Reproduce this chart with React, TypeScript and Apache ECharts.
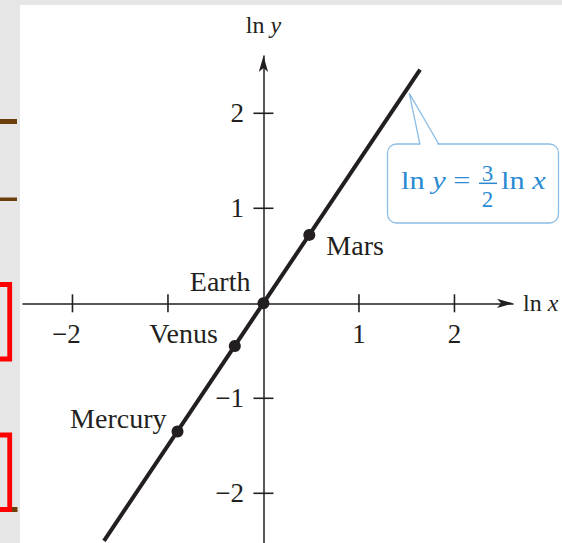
import { useEffect, useRef } from "react";
import * as echarts from "echarts";

// Tick positions and tick labels on the two log axes
const xTicks = [-2, -1, 1, 2];
const yTicks = [2, 1, -1, -2];
const xTickLabels = [-2, 1, 2];
const yTickLabels = [2, 1, -1, -2];

// Planets: ln of orbital radius (AU) and ln of period (years)
const planetNames = ["Mercury", "Venus", "Earth", "Mars"];
const planetLnX = [-0.9, -0.3, 0, 0.48];
const planetLnY = [-1.35, -0.45, 0, 0.72];

// End points of the fitted line ln y = 3/2 ln x
const fitLnX = [-1.67, 1.64];
const fitLnY = [-2.5, 2.46];

const ink = "#231f20";
const blue = "#2a8bd3";
const serif = "'Liberation Serif', 'Times New Roman', serif";

const labelPlacement: Record<string, any> = {
  Mercury: { position: "left", distance: 5, offset: [0, -13.5] },
  Venus: { position: "left", distance: 11, offset: [0, -13] },
  Earth: { position: "left", distance: 7, offset: [0, -22] },
  Mars: { position: "right", distance: 11, offset: [0, 11] },
};

const minus = (v: number) => (v < 0 ? "\u2212" + Math.abs(v) : String(v));

export default function App() {
  const ref = useRef<HTMLDivElement>(null);

  useEffect(() => {
    const chart = echarts.init(ref.current!, null, { renderer: "svg" });

    const richLn = (size: number, color: string, key: string) => ({
      n: { fontFamily: serif, fontSize: size, [key]: color },
      i: { fontFamily: serif, fontSize: size, [key]: color, fontStyle: "italic" },
    });

    const tickLabel = {
      show: true,
      fontFamily: serif,
      fontSize: 27,
      color: ink,
    };

    const calloutText = (x: number, y: number, text: string) => ({
      type: "text",
      x,
      y,
      scaleX: 1.17,
      style: {
        text,
        rich: richLn(26, blue, "fill"),
        fill: blue,
        verticalAlign: "middle",
        align: "left",
      },
    });

    const option: any = {
      animation: false,
      backgroundColor: "#ffffff",
      grid: { left: 23, top: 56, width: 490, height: 486.7, containLabel: false, outerBoundsMode: "none" },
      xAxis: {
        type: "value",
        min: -2.518,
        max: 2.613,
        axisLine: {
          onZero: true,
          lineStyle: { color: ink, width: 1.5 },
          symbol: ["none", "arrow"],
          symbolSize: [7, 16],
        },
        axisTick: { show: false },
        splitLine: { show: false },
        axisLabel: { show: false },
        name: "{n|ln }{i|x}",
        nameLocation: "end",
        nameGap: 10,
        nameTextStyle: { fontFamily: serif, fontSize: 24, color: ink, rich: richLn(24, ink, "color") },
      },
      yAxis: {
        type: "value",
        min: -2.52,
        max: 2.603,
        axisLine: {
          onZero: true,
          lineStyle: { color: ink, width: 1.5 },
          symbol: ["none", "arrow"],
          symbolSize: [7, 16],
        },
        axisTick: { show: false },
        splitLine: { show: false },
        axisLabel: { show: false },
        name: "{n|ln }{i|y}",
        nameLocation: "end",
        nameGap: 19,
        nameTextStyle: { fontFamily: serif, fontSize: 24, color: ink, rich: richLn(24, ink, "color") },
      },
      series: [
        // cross-shaped ticks on the x axis
        {
          type: "scatter",
          silent: true,
          symbol: "rect",
          symbolSize: [1.6, 18],
          itemStyle: { color: ink, opacity: 1 },
          data: xTicks.map((v) => [v, 0]),
          z: 1,
        },
        // cross-shaped ticks on the y axis
        {
          type: "scatter",
          silent: true,
          symbol: "rect",
          symbolSize: [20, 1.6],
          itemStyle: { color: ink, opacity: 1 },
          data: yTicks.map((v) => [0, v]),
          z: 1,
        },
        // tick labels below the x axis
        {
          type: "scatter",
          silent: true,
          symbol: "rect",
          symbolSize: 1,
          itemStyle: { color: "rgba(0,0,0,0)", opacity: 1 },
          label: {
            ...tickLabel,
            position: "bottom",
            distance: 17,
            formatter: (p: any) => minus(p.value[0]),
          },
          data: xTickLabels.map((v) => ({
            value: [v, 0],
            label: v < 0 ? { offset: [-6, 0] } : {},
          })),
          z: 1,
        },
        // tick labels left of the y axis
        {
          type: "scatter",
          silent: true,
          symbol: "rect",
          symbolSize: 1,
          itemStyle: { color: "rgba(0,0,0,0)", opacity: 1 },
          label: {
            ...tickLabel,
            position: "left",
            distance: 19,
            formatter: (p: any) => minus(p.value[1]),
          },
          data: yTickLabels.map((v) => [0, v]),
          z: 1,
        },
        {
          type: "line",
          silent: true,
          showSymbol: false,
          lineStyle: { color: ink, width: 4 },
          data: fitLnX.map((x, i) => [x, fitLnY[i]]),
          z: 2,
        },
        {
          type: "scatter",
          symbol: "circle",
          symbolSize: 12,
          itemStyle: { color: ink, opacity: 1 },
          z: 3,
          label: {
            show: true,
            formatter: "{b}",
            fontFamily: serif,
            fontSize: 28,
            color: ink,
          },
          data: planetNames.map((name, i) => ({
            name,
            value: [planetLnX[i], planetLnY[i]],
            label: labelPlacement[name],
          })),
        },
      ],
      graphic: [
        // page frame decoration
        { type: "rect", shape: { x: 0, y: 0, width: 20, height: 543 }, style: { fill: "#e6e6e6" }, z: 0 },
        { type: "rect", shape: { x: 20, y: 0, width: 542, height: 5 }, style: { fill: "#e6e6e6" }, z: 0 },
        { type: "rect", shape: { x: 0, y: 119, width: 17, height: 5 }, style: { fill: "#6b3e0b" }, z: 5 },
        { type: "rect", shape: { x: 0, y: 197.5, width: 17, height: 3.5 }, style: { fill: "#6b3e0b" }, z: 5 },
        {
          type: "polyline",
          shape: { points: [[0, 284.5], [9.7, 284.5], [9.7, 359], [0, 359]] },
          style: { stroke: "#ff0000", lineWidth: 4.8, fill: "none" },
          z: 5,
        },
        {
          type: "polyline",
          shape: { points: [[0, 435], [9.7, 435], [9.7, 509.5], [0, 509.5]] },
          style: { stroke: "#ff0000", lineWidth: 4.8, fill: "none" },
          z: 5,
        },
        { type: "rect", shape: { x: 12, y: 507, width: 5.5, height: 5 }, style: { fill: "#6b3e0b" }, z: 5 },
        // equation callout
        {
          type: "group",
          z: 10,
          children: [
            {
              type: "rect",
              shape: { x: 387.5, y: 144, width: 171, height: 79, r: 9 },
              style: { fill: "#ffffff", stroke: "#8cbde6", lineWidth: 1.3 },
            },
            {
              type: "polygon",
              shape: { points: [[420.5, 146], [409.3, 93.3], [438.5, 146]] },
              style: { fill: "#ffffff" },
            },
            {
              type: "polyline",
              shape: { points: [[420, 144.5], [409.3, 93.3], [439, 144.5]] },
              style: { stroke: "#8cbde6", lineWidth: 1.3, fill: "none" },
            },
            calloutText(401, 180.5, "{n|ln }{i|y}{n| =}"),
            {
              type: "text",
              x: 487.5,
              y: 173.5,
              style: { text: "3", fontFamily: serif, fontSize: 23, fill: blue, align: "center", verticalAlign: "middle" },
            },
            {
              type: "line",
              shape: { x1: 479, y1: 183.3, x2: 497, y2: 183.3 },
              style: { stroke: blue, lineWidth: 1.5 },
            },
            {
              type: "text",
              x: 487.5,
              y: 199,
              style: { text: "2", fontFamily: serif, fontSize: 23, fill: blue, align: "center", verticalAlign: "middle" },
            },
            calloutText(501, 180.5, "{n|ln }{i|x}"),
          ],
        },
      ],
    };

    chart.setOption(option);
    return () => chart.dispose();
  }, []);

  return (
    <div
      ref={ref}
      style={{ position: "fixed", left: 0, top: 0, width: 562, height: 543, background: "#ffffff" }}
    />
  );
}
